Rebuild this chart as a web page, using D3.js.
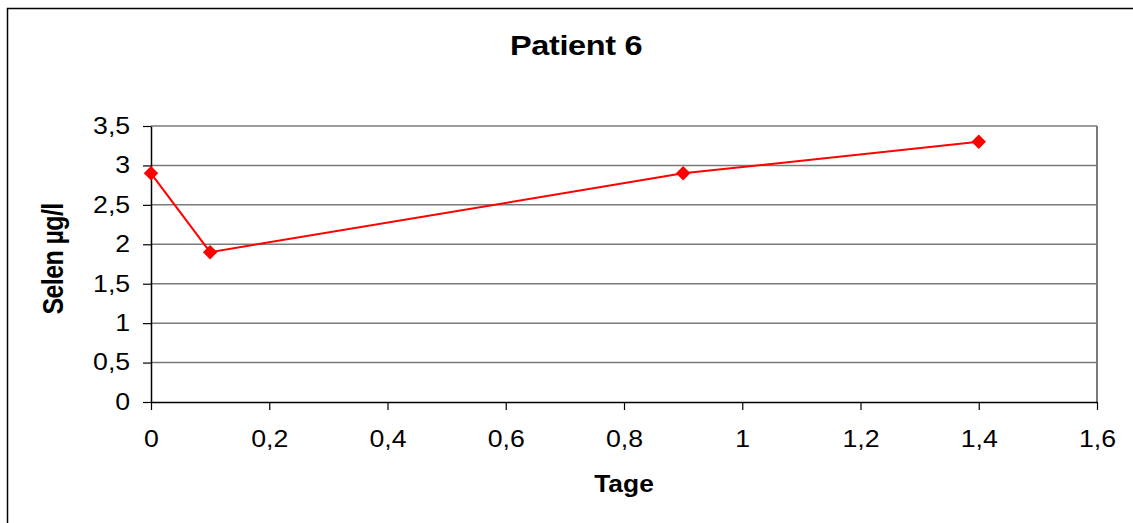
<!DOCTYPE html>
<html>
<head>
<script src="https://d3js.org/d3.v7.min.js"></script>
<style>
  body { margin: 0; background: #fff; }
  text { font-family: "Liberation Sans", Arial, sans-serif; }
  .title { font-size: 28px; font-weight: bold; letter-spacing: -0.3px; }
  .axlabel { font-size: 24px; font-weight: bold; }
  .ylabel { font-size: 25px; font-weight: bold; letter-spacing: -0.6px; }
  .tick text { font-size: 23px; fill: #000; }
</style>
</head>
<body>
<script>
// data
var days = [0, 0.1, 0.9, 1.4];
var selen = [2.9, 1.9, 2.9, 3.3];
var xTicks = [0, 0.2, 0.4, 0.6, 0.8, 1, 1.2, 1.4, 1.6];
var yTicks = [0, 0.5, 1, 1.5, 2, 2.5, 3, 3.5];

var W = 1133, H = 523;
var margin = {top: 126, right: 36, bottom: 121, left: 151};
var width = W - margin.left - margin.right,
    height = H - margin.top - margin.bottom;
var sx = 1.16; // the original is stretched sideways

var svg = d3.select("body").append("svg")
  .attr("width", W).attr("height", H);

// outer chart border (runs off the right/bottom edge)
svg.append("rect")
  .attr("x", 7.5).attr("y", 8.5)
  .attr("width", W + 10).attr("height", H + 10)
  .attr("fill", "none").attr("stroke", "#000").attr("stroke-width", 1.5);

var fmt = function(d) { return String(d).replace(".", ","); };

var x = d3.scaleLinear().domain([0, 1.6]).range([0, width]);
var y = d3.scaleLinear().domain([0, 3.5]).range([height, 0]);

var g = svg.append("g")
  .attr("transform", "translate(" + margin.left + "," + margin.top + ")");

// gridlines
g.selectAll(".grid").data(yTicks.slice(1)).enter().append("line")
  .attr("x1", 0).attr("x2", width)
  .attr("y1", function(d) { return y(d); })
  .attr("y2", function(d) { return y(d); })
  .attr("stroke", "#7a7a7a").attr("stroke-width", 1.5);

// right frame
g.append("line")
  .attr("x1", width).attr("x2", width).attr("y1", 0).attr("y2", height)
  .attr("stroke", "#7a7a7a").attr("stroke-width", 2);

// axes
var xAxis = g.append("g")
  .attr("transform", "translate(0," + height + ")")
  .call(d3.axisBottom(x).tickValues(xTicks).tickFormat(fmt).tickSize(8).tickSizeOuter(0).tickPadding(21));
var yAxis = g.append("g")
  .call(d3.axisLeft(y).tickValues(yTicks).tickFormat(fmt).tickSize(8).tickSizeOuter(0).tickPadding(10));
[xAxis, yAxis].forEach(function(a) {
  a.select(".domain").attr("stroke", "#000").attr("stroke-width", 1.5);
  a.selectAll(".tick line").attr("stroke", "#000").attr("stroke-width", 1.2);
  a.selectAll(".tick text").attr("transform", "scale(" + sx + ",1)");
});

// line
var pts = days.map(function(d, i) { return [d, selen[i]]; });
g.append("path")
  .datum(pts)
  .attr("fill", "none").attr("stroke", "#ff0000").attr("stroke-width", 2)
  .attr("d", d3.line().x(function(d) { return x(d[0]); }).y(function(d) { return y(d[1]); }));

g.selectAll(".pt").data(pts).enter().append("path")
  .attr("d", d3.symbol().type(d3.symbolDiamond2).size(135))
  .attr("transform", function(d) { return "translate(" + x(d[0]) + "," + y(d[1]) + ")"; })
  .attr("fill", "#ff0000");

// titles
svg.append("text").attr("class", "title")
  .attr("transform", "translate(576,55) scale(" + sx + ",1)")
  .attr("text-anchor", "middle")
  .text("Patient 6");
svg.append("text").attr("class", "axlabel")
  .attr("transform", "translate(624,492) scale(1.1,1)")
  .attr("text-anchor", "middle")
  .text("Tage");
svg.append("text").attr("class", "ylabel")
  .attr("transform", "translate(63,259) scale(" + sx + ",1) rotate(-90)")
  .attr("text-anchor", "middle")
  .text("Selen µg/l");
</script>
</body>
</html>
